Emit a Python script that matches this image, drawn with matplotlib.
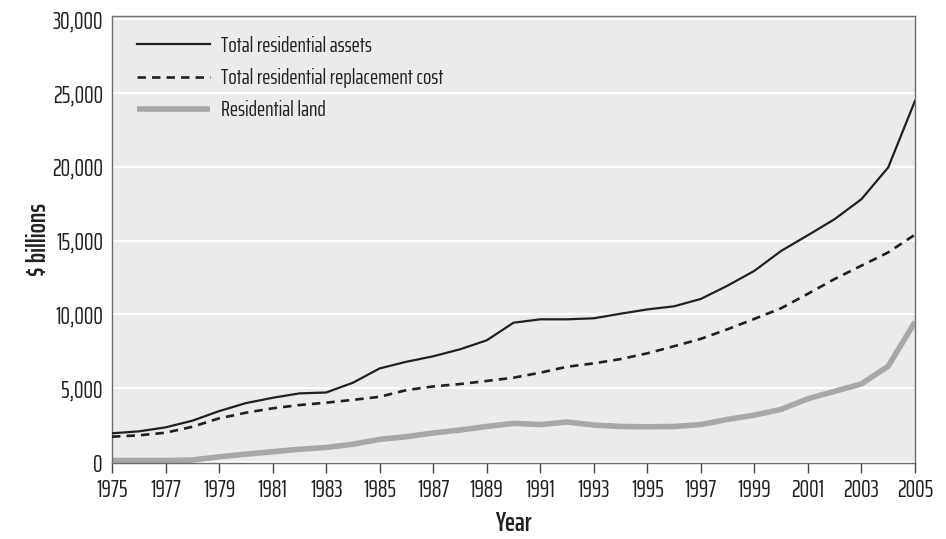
import matplotlib
matplotlib.use("Agg")
import matplotlib.pyplot as plt
from matplotlib import font_manager as fm
from matplotlib.textpath import TextPath
from matplotlib.font_manager import FontProperties

years = list(range(1975, 2006))
total_assets = [1960, 2090, 2360, 2810, 3460, 4000, 4360, 4660, 4720, 5380,
                6350, 6800, 7170, 7640, 8250, 9440, 9670, 9670, 9740, 10050,
                10340, 10550, 11050, 11950, 12950, 14300, 15360, 16450, 17800, 19950,
                24450]
replacement_cost = [1730, 1820, 2000, 2400, 2970, 3350, 3650, 3870, 4030, 4220,
                    4430, 4880, 5130, 5290, 5500, 5720, 6060, 6460, 6690, 6980,
                    7370, 7850, 8350, 9000, 9700, 10420, 11400, 12400, 13300, 14200,
                    15400]
residential_land = [120, 120, 120, 150, 370, 550, 710, 880, 1000, 1220,
                    1550, 1730, 1980, 2180, 2420, 2630, 2550, 2720, 2520, 2420,
                    2400, 2420, 2550, 2900, 3190, 3580, 4300, 4800, 5300, 6500,
                    9500]
series_labels = ["Total residential assets", "Total residential replacement cost", "Residential land"]
y_ticks = [0, 5000, 10000, 15000, 20000, 25000, 30000]
x_ticks = list(range(1975, 2006, 2))

names = {f.name for f in fm.fontManager.ttflist}
fam = [f for f in ["Saira ExtraCondensed", "Sofia Sans Extra Condensed", "Barlow Condensed", "DejaVu Sans"] if f in names]
plt.rcParams['font.family'] = fam

DPI = 100
# font size (pt) giving a wanted cap height in pixels
_cap = TextPath((0, 0), "T", prop=FontProperties(family=fam, size=100)).get_extents().height / 100.0
def size_for_cap(px):
    return px * 72.0 / DPI / _cap

tick_fs = size_for_cap(16.5)
leg_fs = size_for_cap(15.0)
lab_fs = size_for_cap(18.5)

fig = plt.figure(figsize=(9.46, 5.39), dpi=DPI)
ax = fig.add_axes([112 / 946, 1 - 463 / 539, 803 / 946, 447 / 539])
ax.set_facecolor("#EBEBEC")

ax.plot(years, total_assets, color="#231F20", lw=1.6, label=series_labels[0], zorder=4)
ax.plot(years, replacement_cost, color="#231F20", lw=1.9, ls=(0, (3.2, 2.3)), label=series_labels[1], zorder=3)
ax.plot(years, residential_land, color="#A7A8AA", lw=4.0, label=series_labels[2], zorder=2,
        solid_capstyle="butt")

ax.set_xlim(1975, 2005)
ax.set_ylim(-50, 30190)
ax.set_yticks(y_ticks)
ax.set_yticklabels([f"{v:,}" for v in y_ticks])
ax.set_xticks(x_ticks)
ax.set_xticklabels([str(v) for v in x_ticks])
ax.yaxis.grid(True, color="white", lw=1.5)
ax.set_axisbelow(True)

for s in ax.spines.values():
    s.set_color("#6D6E70")
    s.set_linewidth(1.0)

ax.tick_params(axis='x', direction='out', length=7.5, width=1, color="#444444",
               labelsize=tick_fs, labelcolor="#231F20", pad=3)
ax.tick_params(axis='y', length=0, labelsize=tick_fs, labelcolor="#231F20", pad=6.5)

ax.set_xlabel("Year", fontsize=lab_fs, fontweight="semibold", color="#231F20")
ax.set_ylabel("$ billions", fontsize=lab_fs, fontweight="semibold", color="#231F20")
ax.xaxis.set_label_coords(0.5, -0.108)
ax.yaxis.set_label_coords(-0.076, 0.5)

fs_px = leg_fs * DPI / 72.0
leg = ax.legend(loc="upper left", frameon=False, fontsize=leg_fs,
                handlelength=73 / fs_px, handletextpad=11 / fs_px,
                labelspacing=(34.0 - fs_px) / fs_px, borderpad=0, borderaxespad=0)
leg.set_bbox_to_anchor((137 / 946, (539 - 47 + fs_px * 0.5) / 539), transform=fig.transFigure)
for t in leg.get_texts():
    t.set_color("#231F20")

fig.savefig("out.png", dpi=DPI)
